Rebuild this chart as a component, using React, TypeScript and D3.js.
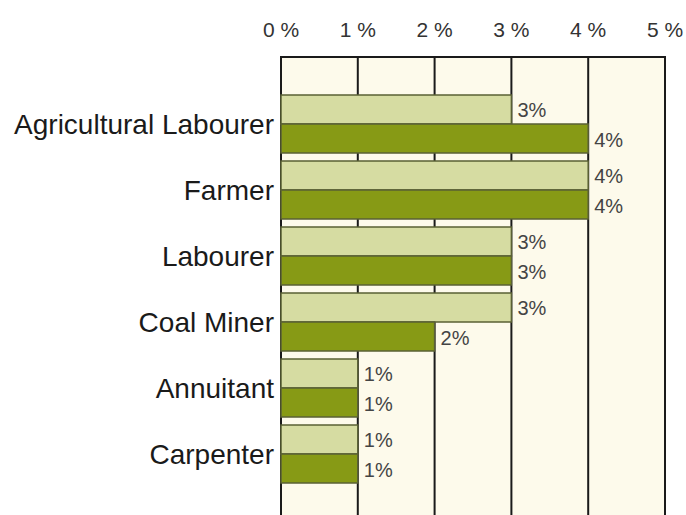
import React from "react";
import * as d3 from "d3";

const categories = ["Agricultural Labourer", "Farmer", "Labourer", "Coal Miner", "Annuitant", "Carpenter"];
const series1 = [3, 4, 3, 3, 1, 1];
const series2 = [4, 4, 3, 2, 1, 1];
const ticks = [0, 1, 2, 3, 4, 5];

const W = 686;
const H = 515;
const plotLeft = 281;
const plotRight = 665;
const plotTop = 57;
const plotBottom = 530;

export default function App() {
  const x = d3.scaleLinear().domain([0, 5]).range([plotLeft, plotRight]);
  const y = d3
    .scaleBand<string>()
    .domain(categories)
    .range([91, 487])
    .paddingInner(8 / 66)
    .paddingOuter(4 / 66);
  const bw = y.bandwidth() / 2;
  const font = "'Liberation Sans', Arial, sans-serif";

  return (
    <svg
      width={W}
      height={H}
      style={{ position: "fixed", top: 0, left: 0, background: "#ffffff" }}
      fontFamily={font}
    >
      <rect x={0} y={0} width={W} height={H} fill="#ffffff" />
      <rect
        x={plotLeft}
        y={plotTop}
        width={plotRight - plotLeft}
        height={plotBottom - plotTop}
        fill="#fdfaeb"
      />
      {ticks.slice(1, -1).map((t) => (
        <line
          key={"g" + t}
          x1={x(t)}
          x2={x(t)}
          y1={plotTop}
          y2={plotBottom}
          stroke="#1a1a1a"
          strokeWidth={2}
        />
      ))}
      <rect
        x={plotLeft}
        y={plotTop}
        width={plotRight - plotLeft}
        height={plotBottom - plotTop}
        fill="none"
        stroke="#1a1a1a"
        strokeWidth={2}
      />
      {ticks.map((t) => (
        <text
          key={"t" + t}
          x={x(t)}
          y={37}
          textAnchor="middle"
          fontSize={21}
          fill="#333"
        >
          {t} %
        </text>
      ))}
      {categories.map((c, i) => {
        const y0 = y(c)!;
        return (
          <g key={c}>
            <rect
              x={x(0)}
              y={y0}
              width={x(series1[i]) - x(0)}
              height={bw}
              fill="#d6dca2"
              stroke="#5a6035"
              strokeWidth={1.5}
            />
            <rect
              x={x(0)}
              y={y0 + bw}
              width={x(series2[i]) - x(0)}
              height={bw}
              fill="#879a15"
              stroke="#5a6035"
              strokeWidth={1.5}
            />
            <text
              x={x(series1[i]) + 6}
              y={y0 + bw / 2}
              dy="0.35em"
              fontSize={20}
              fill="#444"
            >
              {series1[i]}%
            </text>
            <text
              x={x(series2[i]) + 6}
              y={y0 + bw + bw / 2 + 1.5}
              dy="0.35em"
              fontSize={20}
              fill="#444"
            >
              {series2[i]}%
            </text>
            <text
              x={274}
              y={y0 + bw}
              dy="0.36em"
              textAnchor="end"
              fontSize={28}
              fill="#1a1a1a"
            >
              {c}
            </text>
          </g>
        );
      })}
    </svg>
  );
}
